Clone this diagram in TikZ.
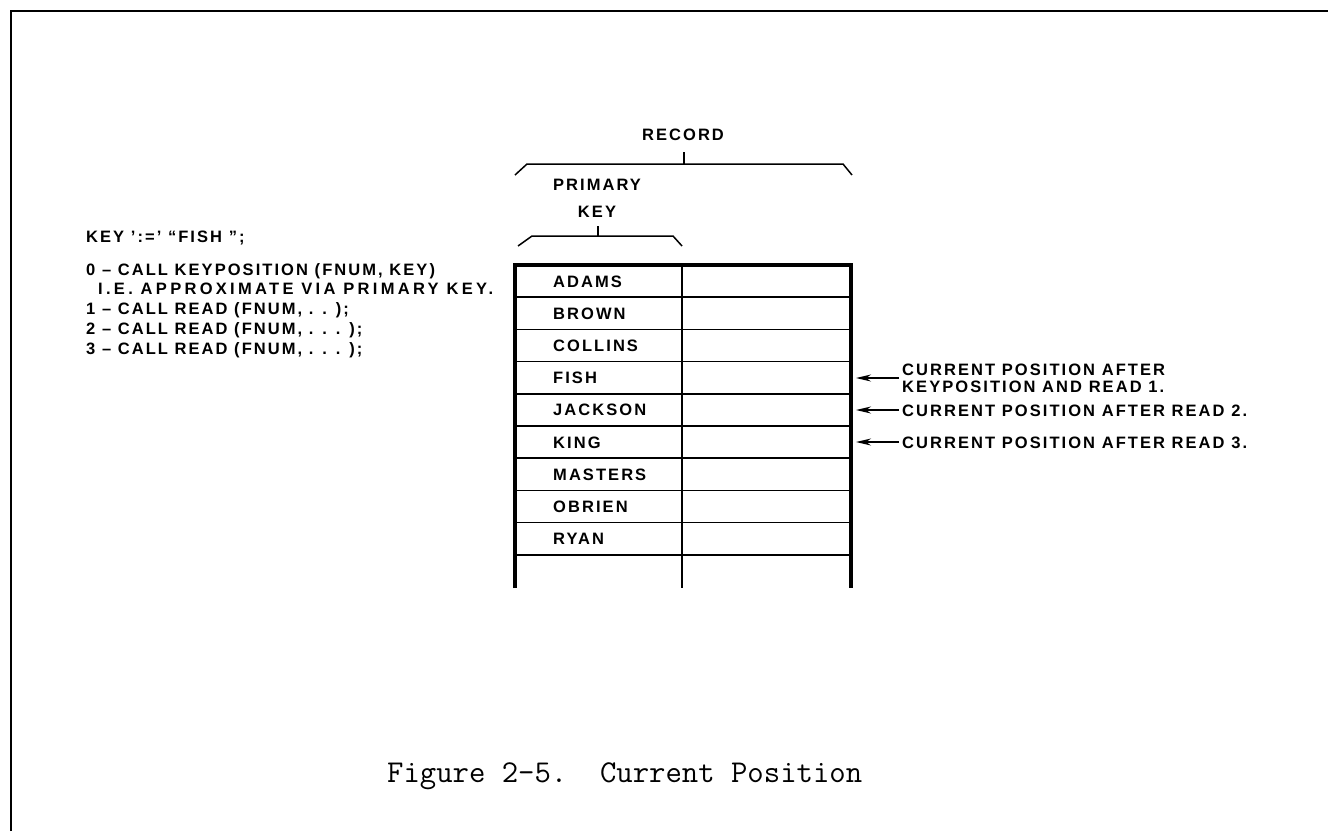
\documentclass[tikz,border=0pt]{standalone}
\usepackage{fontspec}
\newfontfamily\lblfont{Liberation Sans}[LetterSpace=12.5]
\newfontfamily\widefont{Liberation Sans}[LetterSpace=20]
\usetikzlibrary{arrows.meta,positioning}

\begin{document}
\begin{tikzpicture}[
  x=1pt,y=-1pt,
  lbl/.style={font=\lblfont\bfseries\fontsize{16.5}{18}\selectfont,inner sep=0pt,
              text height=12pt,text depth=0pt,anchor=west},
  multilbl/.style={font=\lblfont\bfseries\fontsize{16.5}{17}\selectfont,inner sep=0pt,
                   align=left,anchor=west},
  outerrule/.style={line width=3.2pt,line join=miter},
  rowrule/.style={line width=1.6pt},
  brace/.style={line width=1.5pt,line join=round},
  ptr/.style={-{Stealth[length=15pt,width=7pt]},line width=1.5pt,shorten <=3pt},
]
  \useasboundingbox (0,0) rectangle (1328,831);

  % Page frame
  \draw[line width=2pt] (11,831) -- (11,11) -- (1328,11);

  % Braces
  \node[lbl,anchor=center] (rec) at (683,134) {RECORD};
  \draw[brace] (515,175) -- (527,164) -- (843,164) -- (852,175);
  \draw[brace] (684,164) -- (684,152);
  \node[multilbl,align=center,anchor=center,
        font=\lblfont\bfseries\fontsize{16.5}{27}\selectfont] (pkey) at (597,198) {PRIMARY\\KEY};
  \draw[brace] (518,246) -- (532,236) -- (673,236) -- (682,246);
  \draw[brace] (598,236) -- (598,226);

  % Record table
  \draw[outerrule] (515,588) -- (515,265) -- (851,265) -- (851,588);
  \draw[line width=1.3pt] (682,265) -- (682,588);
  \foreach \i in {1,...,9}
    \draw[rowrule] (516,{265+32.2*\i}) -- (850,{265+32.2*\i});
  \foreach \nm [count=\i] in {ADAMS,BROWN,COLLINS,FISH,JACKSON,KING,MASTERS,OBRIEN,RYAN}
    \node[lbl] (row\i) at (553,{265+32.2*(\i-0.5)}) {\nm};

  % Code lines
  \node[lbl] (keyln) at (86,236) {KEY ’:=’ “FISH ”;};
  \node[lbl] (ln0) at (86,269) {0 \textendash\ CALL KEYPOSITION (FNUM, KEY)};
  \node[lbl,font=\widefont\bfseries\fontsize{16.5}{18}\selectfont] (ln0b) at (98,288)
    {I.E. APPROXIMATE VIA PRIMARY KEY.};
  \node[lbl] (ln1) at (86,308) {1 \textendash\ CALL READ (FNUM, . . );};
  \node[lbl] (ln2) at (86,328) {2 \textendash\ CALL READ (FNUM, . . . );};
  \node[lbl] (ln3) at (86,348) {3 \textendash\ CALL READ (FNUM, . . . );};

  % Current position pointers
  \node[multilbl] (pos1) at (902,378) {CURRENT POSITION AFTER\\KEYPOSITION AND READ 1.};
  \node[lbl] (pos2) at (902,410) {CURRENT POSITION AFTER READ 2.};
  \node[lbl] (pos3) at (902,442) {CURRENT POSITION AFTER READ 3.};
  \coordinate (tip1) at (856,378);
  \coordinate (tip2) at (856,410);
  \coordinate (tip3) at (856,442);
  \draw[ptr] (pos1.west) -- (tip1);
  \draw[ptr] (pos2.west) -- (tip2);
  \draw[ptr] (pos3.west) -- (tip3);

  % Caption
  \node[font=\ttfamily\fontsize{31.8}{34}\selectfont,inner sep=0pt,anchor=west] (cap) at (387,776)
    {Figure 2-5.~~Current Position};
\end{tikzpicture}
\end{document}
